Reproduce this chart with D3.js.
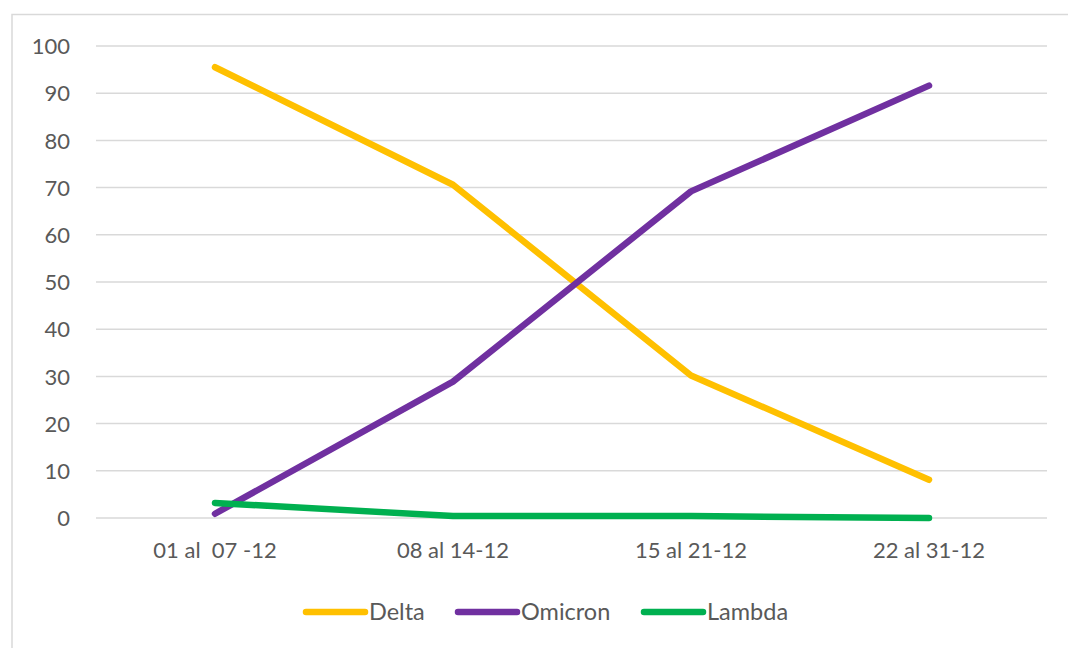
<!DOCTYPE html>
<html><head><meta charset="utf-8">
<script src="https://cdn.jsdelivr.net/npm/d3@7/dist/d3.min.js"></script>
<style>body{margin:0;background:#fff}svg{display:block}</style>
</head><body>
<svg id="c" width="1068" height="648"></svg>
<script>
const categories = ["01 al  07 -12", "08 al 14-12", "15 al 21-12", "22 al 31-12"];
const delta = [95.5, 70.6, 30.2, 8.1];
const omicron = [0.9, 28.9, 69.2, 91.6];
const lambda = [3.2, 0.4, 0.4, 0.0];
const seriesNames = ["Delta", "Omicron", "Lambda"];
const seriesColors = ["#FFC000", "#7030A0", "#00B050"];
const yTicks = [0,10,20,30,40,50,60,70,80,90,100];

const svg = d3.select("#c");
const font = "Lato, 'Open Sans', sans-serif";
const textColor = "#595959";

// chart border
svg.append("rect").attr("x",12).attr("y",14.5).attr("width",1070).attr("height",660)
  .attr("fill","none").attr("stroke","#d9d9d9").attr("stroke-width",1.5);

const x = d3.scaleBand().domain(categories).range([96,1048]);
const y = d3.scaleLinear().domain([0,100]).range([518,46]);

// gridlines
svg.append("g").selectAll("line").data(yTicks).join("line")
  .attr("x1",96).attr("x2",1047).attr("y1",d=>y(d)).attr("y2",d=>y(d))
  .attr("stroke","#d9d9d9").attr("stroke-width",1.5);

// y axis labels
const yAxis = d3.axisLeft(y).tickValues(yTicks).tickSize(0).tickPadding(0);
const gy = svg.append("g").attr("transform","translate(70,0)").call(yAxis);
gy.select(".domain").remove();
gy.selectAll("text").attr("font-family",font).attr("font-size",22).attr("fill",textColor).attr("dy","0.35em");

// x axis labels
const xAxis = d3.axisBottom(x).tickSize(0).tickPadding(0);
const gx = svg.append("g").attr("transform","translate(0,542)").call(xAxis);
gx.select(".domain").remove();
gx.selectAll("text").attr("font-family",font).attr("font-size",22).attr("fill",textColor).attr("dy","0.72em")
  .style("white-space","pre").attr("xml:space","preserve");

const allSeries = [delta, omicron, lambda];
const line = d3.line().x((d,i)=>x(categories[i])+x.bandwidth()/2).y(d=>y(d));
svg.append("g").selectAll("path").data(allSeries).join("path")
  .attr("d",d=>line(d)).attr("fill","none")
  .attr("stroke",(d,i)=>seriesColors[i]).attr("stroke-width",6.5)
  .attr("stroke-linecap","round").attr("stroke-linejoin","round");

// legend
const legendX = [306, 458, 644];
const lg = svg.append("g");
seriesNames.forEach((n,i)=>{
  lg.append("line").attr("x1",legendX[i]).attr("x2",legendX[i]+59).attr("y1",612).attr("y2",612)
    .attr("stroke",seriesColors[i]).attr("stroke-width",6.5).attr("stroke-linecap","round");
  lg.append("text").attr("x",legendX[i]+63).attr("y",612).attr("dy","0.36em")
    .attr("font-family",font).attr("font-size",23.5).attr("fill",textColor).text(n);
});
</script>
</body></html>
